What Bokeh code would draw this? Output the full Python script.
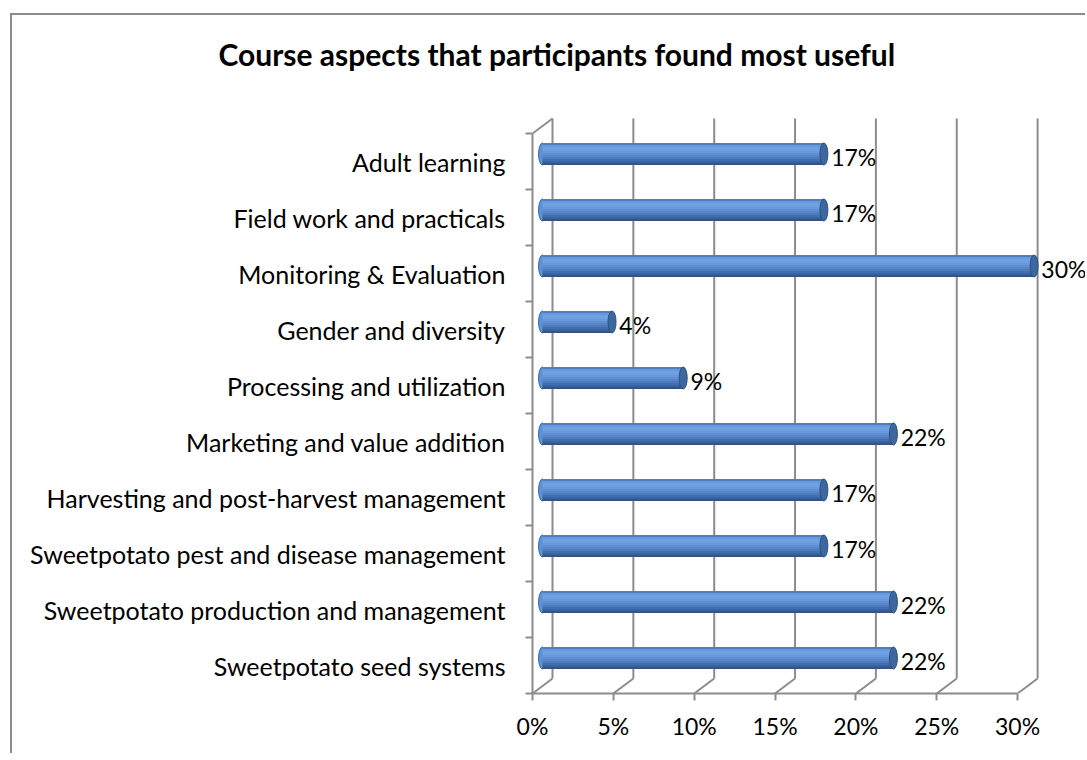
from bokeh.plotting import figure
from bokeh.models import ColumnDataSource, FixedTicker, LinearAxis
from bokeh.embed import file_html
from bokeh.resources import INLINE
from bokeh.core.properties import value

# ---------------- data ----------------
categories = [
    "Adult learning",
    "Field work and practicals",
    "Monitoring & Evaluation",
    "Gender and diversity",
    "Processing and utilization",
    "Marketing and value addition",
    "Harvesting and post-harvest management",
    "Sweetpotato pest and disease management",
    "Sweetpotato production and management",
    "Sweetpotato seed systems",
]
values = [17.4, 17.4, 30.4, 4.3, 8.7, 21.7, 17.4, 17.4, 21.7, 21.7]
value_labels = ["17%", "17%", "30%", "4%", "9%", "22%", "17%", "17%", "22%", "22%"]
x_ticks = [0, 5, 10, 15, 20, 25, 30]
x_tick_labels = ["0%", "5%", "10%", "15%", "20%", "25%", "30%"]
title_text = "Course aspects that participants found most useful"

# ---------------- layout constants ----------------
FONT = "Lato"
OX, OY = 12, 15            # canvas origin on page (margin + border)
W, H = 1075, 740
PX_PER_X = 16.17           # pixels per percent
PX_PER_Y = 56.0            # pixels per category
TITLE_STANDOFF = 40
TITLE_PANEL = 2 + 36 + TITLE_STANDOFF
FRAME_L, FRAME_B, FRAME_R = 532, 693, OX + W
FRAME_T = OY + TITLE_PANEL
ML = FRAME_L - OX
MB = OY + H - FRAME_B
frame_w = FRAME_R - FRAME_L
frame_h = FRAME_B - FRAME_T
N = len(categories)
DX = 20 / PX_PER_X         # depth offset (data units)
DY = 15 / PX_PER_Y
BAR_H = 22 / PX_PER_Y
GRID = "#8c8c8c"

p = figure(width=W, height=H, output_backend="svg", toolbar_location=None,
           x_range=(0, frame_w / PX_PER_X), y_range=(0, frame_h / PX_PER_Y),
           min_border_left=ML, min_border_right=0, min_border_top=0,
           min_border_bottom=MB, x_axis_location=None, y_axis_location=None)
p.outline_line_color = None
p.grid.visible = False
p.background_fill_color = "white"
p.border_fill_color = "white"
p.margin = (13, 0, 0, 10)
p.styles = {"border-left": "2px solid #8c8c8c", "border-top": "2px solid #8c8c8c"}

# title
p.title.text = title_text
p.title.text_font = FONT
p.title.text_font_style = "bold"
p.title.text_font_size = "30px"
p.title.text_color = "black"
p.title.align = "left"
p.title.offset = 218 - FRAME_L
p.title.vertical_align = "top"
p.title.standoff = TITLE_STANDOFF

# ---------------- axes ----------------
ycent = [N - 1 - i + 0.5 for i in range(N)]
yax = LinearAxis(bounds=(0, N))
yax.ticker = FixedTicker(ticks=ycent, minor_ticks=list(range(N + 1)))
yax.major_label_overrides = {c: categories[i] for i, c in enumerate(ycent)}
yax.major_tick_line_color = None
yax.major_tick_in = 0
yax.major_tick_out = 0
yax.minor_tick_in = 0
yax.minor_tick_out = 7
yax.minor_tick_line_color = GRID
yax.minor_tick_line_width = 2
yax.axis_line_color = GRID
yax.axis_line_width = 2
yax.major_label_standoff = 20
yax.major_label_text_font = FONT
yax.major_label_text_font_size = "25px"
yax.major_label_text_color = "black"
p.add_layout(yax, "left")

xax = LinearAxis(bounds=(0, 30))
xax.ticker = FixedTicker(ticks=x_ticks, minor_ticks=[])
xax.major_label_overrides = {t: l for t, l in zip(x_ticks, x_tick_labels)}
xax.major_tick_in = 0
xax.major_tick_out = 7
xax.major_tick_line_color = GRID
xax.major_tick_line_width = 2
xax.axis_line_color = GRID
xax.axis_line_width = 2
xax.major_label_standoff = 11
xax.major_label_text_font = FONT
xax.major_label_text_font_size = "23px"
xax.major_label_text_color = "black"
p.add_layout(xax, "below")

# ---------------- 3D walls / gridlines ----------------
x0s, y0s, x1s, y1s = [], [], [], []
for t in x_ticks:
    x0s.append(t + DX); y0s.append(DY); x1s.append(t + DX); y1s.append(N + DY)
    x0s.append(t); y0s.append(0); x1s.append(t + DX); y1s.append(DY)
x0s.append(0); y0s.append(N); x1s.append(DX); y1s.append(N + DY)
p.segment(x0=x0s, y0=y0s, x1=x1s, y1=y1s, line_color=GRID, line_width=2)

# ---------------- cylinders ----------------
strip_colors = ["#4f7fc0", "#6798da", "#6fa2e3", "#6ea0e2", "#6799dc", "#5f90d3",
                "#5686c8", "#4d7bbb", "#4370ab", "#3a6398", "#30557f"]
ns = len(strip_colors)
ybar = [c + DY / 2 for c in ycent]
right = [v + DX / 2 for v in values]
CAP_W = 8 / PX_PER_X

p.ellipse(x=[DX / 2] * N, y=ybar, width=CAP_W, height=BAR_H,
          fill_color="#5f90d2", line_color="#4171ac", line_width=1)

sy, sr, sc = [], [], []
for k, col in enumerate(strip_colors):
    off = BAR_H / 2 - (k + 0.5) * BAR_H / ns
    for i in range(N):
        sy.append(ybar[i] + off); sr.append(right[i]); sc.append(col)
p.hbar(y=sy, left=DX / 2, right=sr, height=BAR_H / ns * 1.08,
       fill_color=sc, line_color=None)

p.ellipse(x=right, y=ybar, width=CAP_W, height=BAR_H,
          fill_color="#3d679f", line_color="#2d5182", line_width=1)

# ---------------- value labels ----------------
lab_src = ColumnDataSource(dict(x=[r + 0.45 for r in right],
                                y=[y - 0.06 for y in ybar], t=value_labels))
p.text(x="x", y="y", text="t", source=lab_src, text_font=value(FONT),
       text_font_size="23px", text_baseline="middle", text_align="left",
       text_color="black")

open("out.html", "w").write(file_html(p, INLINE))
